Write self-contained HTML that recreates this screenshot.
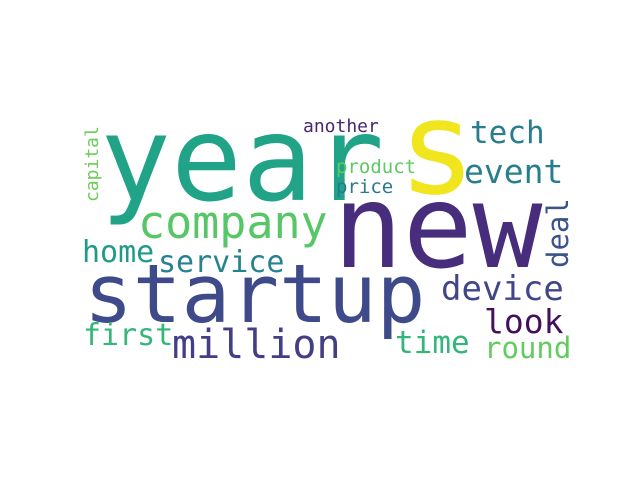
<!DOCTYPE html>
<html><head><meta charset="utf-8"><style>
html,body{margin:0;padding:0;background:#fff;}
svg{display:block;}
text{font-family:"DejaVu Sans Mono","Liberation Mono",monospace;}
</style></head><body>
<svg id="wc" width="640" height="480" viewBox="0 0 640 480"></svg>
<script>
const words = ["year","s","new","startup","company","home","service","first","million","capital","another","product","price","tech","event","deal","device","look","time","round"];
const sizes = [118,130,116,81,45,30,30,30,40,18,18,19,19,31,33,29,34,33,31,29];
const colors = ["#20a386","#f1e51d","#472d7b","#3e4a89","#56c667","#1f9a8a","#26828e","#35b779","#433e85","#6ccd5a","#482475","#5ec962","#29798e","#287d8e","#277f8e","#3b528b","#404688","#440f5e","#32b67a","#63cb5f"];
const xs = [100,398,333,84,138,82,158,83,172,98,303,336,336,470,464,568,441,484,395,484];
const ys = [200,193,267,322,238,262,272,345,358,202,132,173,193,143,183,268,300,333,353,358];
const rot = [0,0,0,0,0,0,0,0,0,-90,0,0,0,0,0,-90,0,0,0,0];
const svg = document.getElementById('wc');
for (let i = 0; i < words.length; i++) {
  const t = document.createElementNS('http://www.w3.org/2000/svg','text');
  t.setAttribute('x', xs[i]);
  t.setAttribute('y', ys[i]);
  t.setAttribute('font-size', sizes[i]);
  t.setAttribute('fill', colors[i]);
  if (rot[i]) t.setAttribute('transform', 'rotate(' + rot[i] + ' ' + xs[i] + ' ' + ys[i] + ')');
  t.textContent = words[i];
  
  
  svg.appendChild(t);
}
</script>
</body></html>
